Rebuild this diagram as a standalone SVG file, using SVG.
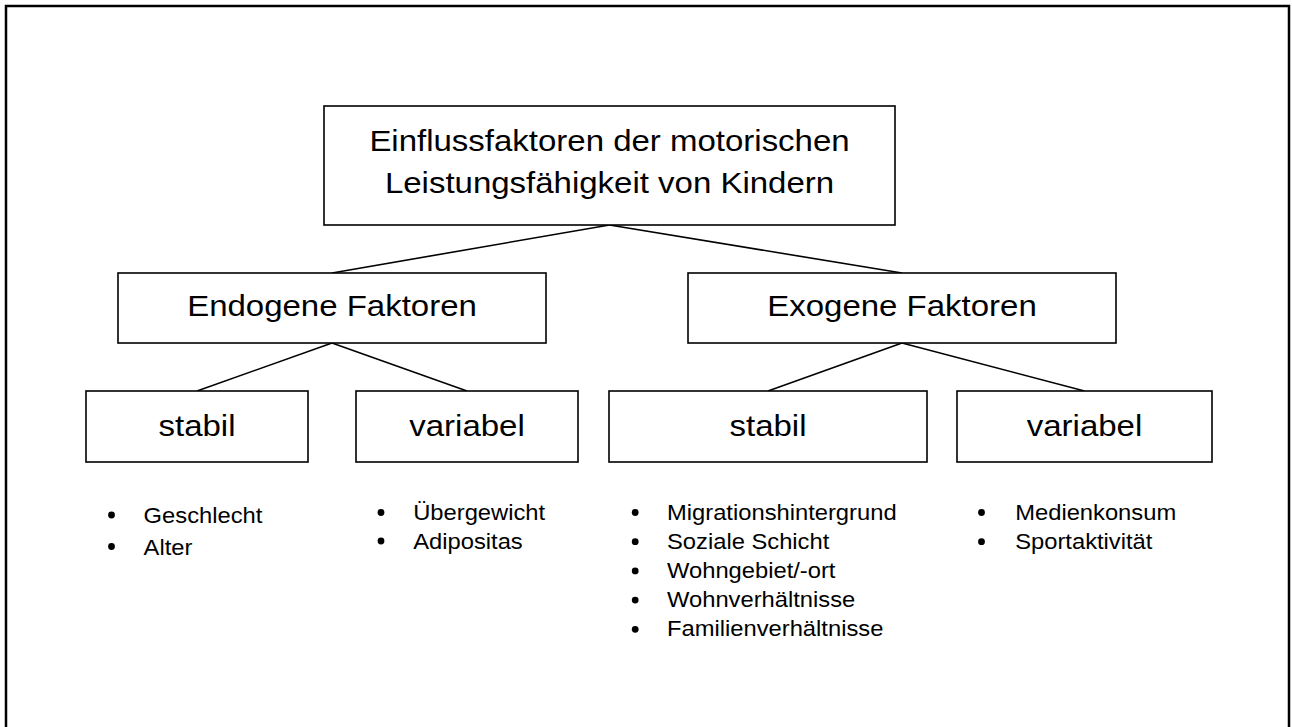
<svg xmlns="http://www.w3.org/2000/svg" width="1292" height="727" viewBox="0 0 1292 727">
<style>
.box{fill:#fff;stroke:#000;stroke-width:1.6}
.lbl{font-family:"Liberation Sans",Arial,sans-serif;font-size:30px;fill:#000;text-anchor:middle}
.li{font-family:"Liberation Sans",Arial,sans-serif;font-size:22px;fill:#000}
.con line{stroke:#000;stroke-width:1.6}
.bul{fill:#000}
</style>
<rect x="0" y="0" width="1292" height="727" fill="#fff"/>
<rect x="6" y="6" width="1283" height="740" fill="none" stroke="#000" stroke-width="2.5"/>
<g id="connectors" class="con">
<line x1="609.5" y1="225" x2="332" y2="273"/>
<line x1="609.5" y1="225" x2="902" y2="273"/>
<line x1="332" y1="343" x2="197" y2="391"/>
<line x1="332" y1="343" x2="467" y2="391"/>
<line x1="902" y1="343" x2="768" y2="391"/>
<line x1="902" y1="343" x2="1084.5" y2="391"/>
</g>
<g id="root">
<rect class="box" x="324" y="106" width="571" height="119"/>
<text class="lbl" transform="translate(609.5,151) scale(1.1,1)">Einflussfaktoren der motorischen</text>
<text class="lbl" transform="translate(609.5,192.7) scale(1.1,1)">Leistungsfähigkeit von Kindern</text>
</g>
<g id="endogen">
<rect class="box" x="118" y="273" width="428" height="70"/>
<text class="lbl" transform="translate(332,316) scale(1.1,1)">Endogene Faktoren</text>
</g>
<g id="exogen">
<rect class="box" x="688" y="273" width="428" height="70"/>
<text class="lbl" transform="translate(902,316) scale(1.1,1)">Exogene Faktoren</text>
</g>
<g id="endo-stabil">
<rect class="box" x="86" y="391" width="222" height="71"/>
<text class="lbl" transform="translate(197,435.7) scale(1.1,1)">stabil</text>
</g>
<g id="endo-variabel">
<rect class="box" x="356" y="391" width="222" height="71"/>
<text class="lbl" transform="translate(467,435.7) scale(1.1,1)">variabel</text>
</g>
<g id="exo-stabil">
<rect class="box" x="609" y="391" width="318" height="71"/>
<text class="lbl" transform="translate(768,435.7) scale(1.1,1)">stabil</text>
</g>
<g id="exo-variabel">
<rect class="box" x="957" y="391" width="255" height="71"/>
<text class="lbl" transform="translate(1084.5,435.7) scale(1.1,1)">variabel</text>
</g>
<g id="list-endo-stabil">
<circle class="bul" cx="111.5" cy="515" r="3.4"/>
<text class="li" transform="translate(143.6,522.7) scale(1.08,1)">Geschlecht</text>
<circle class="bul" cx="111.5" cy="546.5" r="3.4"/>
<text class="li" transform="translate(143.6,554.5) scale(1.08,1)">Alter</text>
</g>
<g id="list-endo-variabel">
<circle class="bul" cx="381" cy="512.5" r="3.4"/>
<text class="li" transform="translate(413.2,520) scale(1.08,1)">Übergewicht</text>
<circle class="bul" cx="381" cy="541" r="3.4"/>
<text class="li" transform="translate(413.2,548.5) scale(1.08,1)">Adipositas</text>
</g>
<g id="list-exo-stabil">
<circle class="bul" cx="635.2" cy="512.5" r="3.4"/>
<text class="li" transform="translate(667,519.5) scale(1.08,1)">Migrationshintergrund</text>
<circle class="bul" cx="635.2" cy="541.7" r="3.4"/>
<text class="li" transform="translate(667,548.7) scale(1.08,1)">Soziale Schicht</text>
<circle class="bul" cx="635.2" cy="570.9" r="3.4"/>
<text class="li" transform="translate(667,577.9) scale(1.08,1)">Wohngebiet/-ort</text>
<circle class="bul" cx="635.2" cy="600.1" r="3.4"/>
<text class="li" transform="translate(667,607.1) scale(1.08,1)">Wohnverhältnisse</text>
<circle class="bul" cx="635.2" cy="629.3" r="3.4"/>
<text class="li" transform="translate(667,636.3) scale(1.08,1)">Familienverhältnisse</text>
</g>
<g id="list-exo-variabel">
<circle class="bul" cx="981.5" cy="512.5" r="3.4"/>
<text class="li" transform="translate(1015.2,519.5) scale(1.08,1)">Medienkonsum</text>
<circle class="bul" cx="981.5" cy="541.7" r="3.4"/>
<text class="li" transform="translate(1015.2,548.7) scale(1.08,1)">Sportaktivität</text>
</g>
</svg>
